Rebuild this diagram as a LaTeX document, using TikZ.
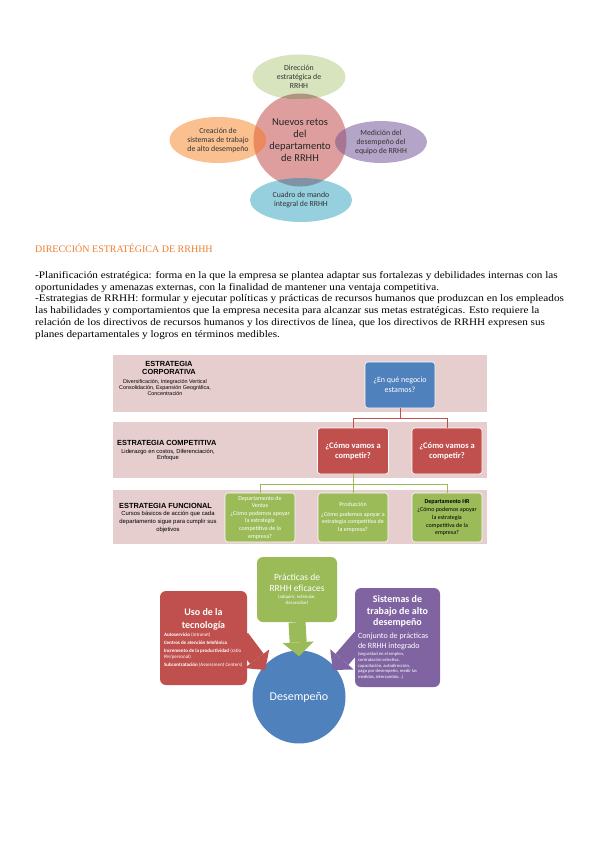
\documentclass[tikz,border=0pt]{standalone}
\usepackage{fontspec}
\setmainfont{Liberation Serif}
\newfontfamily\bodyfont[FakeStretch=1.12]{Liberation Serif}
\newfontfamily\calibri{Carlito}
\newfontfamily\arial{Liberation Sans}
\usetikzlibrary{arrows.meta, positioning, shapes.geometric, calc, backgrounds}

\definecolor{dirGreen}{RGB}{215,228,189}
\definecolor{retoPink}{RGB}{222,158,157}
\definecolor{creaPeach}{RGB}{250,192,144}
\definecolor{mediLav}{RGB}{180,164,200}
\definecolor{cuadBlue}{RGB}{150,207,222}
\definecolor{lensGreen}{RGB}{176,148,128}
\definecolor{lensPeach}{RGB}{234,138,94}
\definecolor{lensLav}{RGB}{168,118,148}
\definecolor{lensBlue}{RGB}{128,146,164}
\definecolor{bandPink}{RGB}{230,205,206}
\definecolor{negBlue}{RGB}{79,129,189}
\definecolor{compRed}{RGB}{192,80,77}
\definecolor{funcGreen}{RGB}{155,187,89}
\definecolor{sysPurple}{RGB}{128,100,162}
\definecolor{titleOrange}{RGB}{237,125,49}

\begin{document}
\begin{tikzpicture}[x=1pt, y=-1pt,
  sat/.style={ellipse, minimum width=95pt, minimum height=45pt, inner sep=0pt, align=center, text=black!80, font=\calibri\fontsize{7.8}{9}\selectfont},
  band/.style={fill=bandPink, minimum width=374pt, inner sep=0pt},
  qbox/.style={draw=white, line width=0.6pt, rounded corners=3pt, minimum width=70pt, minimum height=46pt, inner sep=1pt, align=center, text=white},
  fbox/.style={qbox, fill=funcGreen, minimum height=49pt, font=\calibri\fontsize{6}{7.6}\selectfont},
  lvl/.style={font=\arial\bfseries\fontsize{7.4}{8.5}\selectfont, align=center, inner sep=0pt},
  lvlsub/.style={font=\arial\fontsize{5.8}{6.5}\selectfont, align=center, inner sep=0pt},
  redlink/.style={draw=compRed, line width=0.8pt},
  greenlink/.style={draw=funcGreen, line width=0.8pt},
  panel/.style={rounded corners=6pt, text=white, inner sep=2pt, font=\calibri},
  blockarr/.style={line width=17pt, -{Triangle[length=14pt, width=31pt, line width=0pt]}},
]

\useasboundingbox (0, 0) rectangle (599, 848);

\node[circle, fill=retoPink, minimum size=93pt, inner sep=0pt, align=center, text=black!85, font=\calibri\fontsize{10.5}{12}\selectfont] (retos) at (300, 140) {Nuevos retos\\del\\departamento\\de RRHH};
\node[sat, fill=dirGreen, minimum width=93pt, minimum height=45pt] (direccion) at (299, 77) {Dirección\\estratégica de\\RRHH};
\node[sat, fill=creaPeach, minimum width=97pt, minimum height=46pt] (creacion) at (218, 140) {Creación de\\sistemas de trabajo\\de alto desempeño};
\node[sat, fill=mediLav, minimum width=92pt, minimum height=42pt] (medicion) at (381, 142) {Medición del\\desempeño del\\equipo de RRHH};
\node[sat, fill=cuadBlue, minimum width=102pt, minimum height=44pt] (cuadro) at (301, 200) {Cuadro de mando\\integral de RRHH};

\begin{scope}
  \clip (retos.center) circle[radius=46.5];
  \fill[lensGreen] (direccion.center) ellipse[x radius=46.5, y radius=22.5];
  \fill[lensPeach] (creacion.center) ellipse[x radius=48.5, y radius=23];
  \fill[lensLav] (medicion.center) ellipse[x radius=46, y radius=21];
  \fill[lensBlue] (cuadro.center) ellipse[x radius=51, y radius=22];
\end{scope}

\node[anchor=north west, inner sep=0pt, text=titleOrange, font=\fontsize{10}{12}\selectfont] (titulo) at (35, 244) {DIRECCIÓN ESTRATÉGICA DE RRHHH};
\node[anchor=north west, inner sep=0pt, align=left, font=\bodyfont\fontsize{10}{11.8}\selectfont] (texto) at (35, 271) {-Planificación estratégica: forma en la que la empresa se plantea adaptar sus fortalezas y debilidades internas con las\\oportunidades y amenazas externas, con la finalidad de mantener una ventaja competitiva.\\-Estrategias de RRHH: formular y ejecutar políticas y prácticas de recursos humanos que produzcan en los empleados\\las habilidades y comportamientos que la empresa necesita para alcanzar sus metas estratégicas. Esto requiere la\\relación de los directivos de recursos humanos y los directivos de línea, que los directivos de RRHH expresen sus\\planes departamentales y logros en términos medibles.};

\node[band, minimum height=57pt] (corpBand) at (300, 383.5) {};
\node[band, minimum height=56pt] (compBand) at (300, 450) {};
\node[band, minimum height=54pt] (funcBand) at (300, 517) {};

\node[lvl] (corpTit) at (169, 368) {ESTRATEGIA\\CORPORATIVA};
\node[lvlsub, font=\arial\fontsize{5.4}{5.8}\selectfont] (corpSub) at (165, 387.5) {Diversificación, Integración Vertical\\Consolidación, Expansión Geográfica,\\Concentración};
\node[lvl, anchor=west] (compTit) at (117, 443) {ESTRATEGIA COMPETITIVA};
\node[lvlsub] (compSub) at (168, 455) {Liderazgo en costos, Diferenciación,\\Enfoque};
\node[lvl, anchor=west] (funcTit) at (119, 506) {ESTRATEGIA FUNCIONAL};
\node[lvlsub, font=\arial\fontsize{5.9}{8}\selectfont] (funcSub) at (168, 522) {Cursos básicos de acción que cada\\departamento sigue para cumplir sus\\objetivos};

\node[qbox, fill=negBlue, font=\calibri\fontsize{8}{10}\selectfont] (negocio) at (400, 385) {¿En qué negocio\\estamos?};
\node[qbox, fill=compRed, minimum width=71pt, font=\calibri\bfseries\fontsize{8.5}{10}\selectfont] (compA) at (353, 451) {¿Cómo vamos a\\competir?};
\node[qbox, fill=compRed, font=\calibri\bfseries\fontsize{8.5}{10}\selectfont] (compB) at (447, 451) {¿Cómo vamos a\\competir?};
\node[fbox] (ventas) at (260, 517.5) {Departamento de\\Ventas\\¿Cómo podemos apoyar\\la estrategia\\competitiva de la\\empresa?};
\node[fbox] (produccion) at (353, 517.5) {Producción\\[2pt]¿Cómo podemos apoyar a\\estrategia competitiva de\\la empresa?};
\node[fbox, text=black] (deptoHR) at (447, 517.5) {\textbf{Departamento HR}\\[1pt]¿Cómo podemos apoyar\\la estrategia\\competitiva de la\\empresa?};

\draw[redlink] (negocio.south) -- ++(0, 10) -| (compA.north);
\draw[redlink] (negocio.south) -- ++(0, 10) -| (compB.north);
\draw[greenlink] (compA.south) -- ++(0, 10) -| (ventas.north);
\draw[greenlink] (compA.south) -- (produccion.north);
\draw[greenlink] (compA.south) -- ++(0, 10) -| (deptoHR.north);

\node[panel, fill=funcGreen, minimum width=80pt, minimum height=65pt] (practicas) at (297, 589.5) {\parbox{74pt}{\centering\fontsize{9.5}{11}\selectfont Prácticas de\\RRHH eficaces\par\vspace{1pt}\fontsize{4.8}{6}\selectfont (adquirir, estimular,\\desarrollar)\par}};
\node[panel, fill=compRed, minimum width=87pt, minimum height=94pt] (tecno) at (203.5, 638) {\parbox{79pt}{\centering\bfseries\fontsize{10}{12.5}\selectfont Uso de la\\tecnología\par\vspace{3pt}\raggedright\mdseries\fontsize{5}{5.6}\selectfont \textbf{Autoservicio} (Intranet)\par\vspace{2.4pt}\textbf{Centros de atención telefónica}\par\vspace{2.4pt}\textbf{Incremento de la productividad} (ratio RH/personal)\par\vspace{2.4pt}\textbf{Subcontratación} (Assessment Centers)\par}};
\node[panel, fill=sysPurple, minimum width=85pt, minimum height=99pt] (sistemas) at (397.5, 637.5) {\parbox{79pt}{\centering\bfseries\fontsize{10}{11.5}\selectfont Sistemas de\\trabajo de alto\\desempeño\par\vspace{3pt}\raggedright\mdseries\fontsize{8}{10}\selectfont Conjunto de prácticas\\de RRHH integrado\par\vspace{1pt}\fontsize{4.6}{5.8}\selectfont (seguridad en el empleo,\\contratación selectiva,\\capacitación, autodirección,\\pago por desempeño, medir las\\medidas, intercambio...)\par}};

\begin{scope}[on background layer]
  \node[circle, fill=negBlue, minimum size=93pt, inner sep=0pt, text=white, font=\calibri\fontsize{12}{14}\selectfont] (desem) at (299, 697) {Desempeño};
  \draw[blockarr, draw=funcGreen, fill=funcGreen] (practicas.south) -- ([yshift=-6pt]desem.north);
  \draw[blockarr, draw=compRed, fill=compRed] ([xshift=-6pt]tecno.east) -- ([xshift=2pt, yshift=-3pt]desem.140);
  \draw[blockarr, draw=sysPurple, fill=sysPurple] ([xshift=6pt]sistemas.west) -- ([xshift=-2pt, yshift=-3pt]desem.40);
\end{scope}

\end{tikzpicture}
\end{document}
